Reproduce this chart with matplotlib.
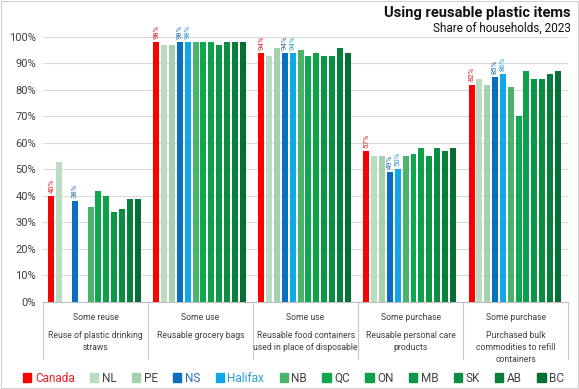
import matplotlib.pyplot as plt
import matplotlib.patches as mpatches
import numpy as np

plt.rcParams["font.family"] = ["Roboto", "DejaVu Sans"]

# categories (two-level axis)
measures = ["Some reuse", "Some use", "Some use", "Some purchase", "Some purchase"]
items = [
    "Reuse of plastic drinking\nstraws",
    "Reusable grocery bags",
    "Reusable food containers\nused in place of disposable",
    "Reusable personal care\nproducts",
    "Purchased bulk\ncommodities to refill\ncontainers",
]
regions = ["Canada", "NL", "PE", "NS", "Halifax", "NB", "QC", "ON", "MB", "SK", "AB", "BC"]

# share of households (%), one list per region; None = not shown
canada = [40, 98, 94, 57, 82]
nl = [53, 97, 93, 55, 84]
pe = [None, 97, 96, 55, 82]
ns = [38, 98, 94, 49, 85]
halifax = [None, 98, 94, 50, 86]
nb = [36, 98, 95, 55, 81]
qc = [42, 98, 93, 56, 70]
on = [40, 98, 94, 58, 87]
mb = [34, 97, 93, 55, 84]
sk = [35, 98, 93, 58, 84]
ab = [39, 98, 96, 57, 86]
bc = [39, 98, 94, 58, 87]
series = [canada, nl, pe, ns, halifax, nb, qc, on, mb, sk, ab, bc]

colors = ["#ff0000", "#b9dcc2", "#a6d1b1", "#0b6fc1", "#12a7e8", "#4cb36f",
          "#0fa84f", "#0ea14b", "#0c9747", "#0a8c42", "#087f3b", "#066f33"]
label_colors = {"Canada": "#e8202a", "NS": "#2c6db3", "Halifax": "#2a9fd6"}
grey = "#404040"

fig = plt.figure(figsize=(5.79, 3.89), dpi=100)
ax = fig.add_axes([0.0743, 0.2237, 0.907, 0.6813])

n = len(regions)
pitch = 0.0746
width = 0.057
start = 0.5 - pitch * (n - 1) / 2 - 0.01
x = np.arange(len(items))

for i, (name, vals) in enumerate(zip(regions, series)):
    xs = [g + start + i * pitch for g, v in zip(x, vals) if v is not None]
    ys = [v / 100 for v in vals if v is not None]
    ax.bar(xs, ys, width=width, color=colors[i], align="center", zorder=3)
    if name in label_colors:
        for xx, yy in zip(xs, ys):
            ax.text(xx, yy + 0.012, f"{round(yy * 100)}%", rotation=90, ha="center",
                    va="bottom", fontsize=5.6, color=label_colors[name], clip_on=False)

ax.set_xlim(0, len(items))
ax.set_ylim(0, 1)
ticks = np.arange(0, 1.01, 0.1)
ax.set_yticks(ticks)
ax.set_yticklabels([f"{int(round(t * 100))}%" for t in ticks], fontsize=8, color=grey)
ax.tick_params(axis="y", length=0, pad=5)
ax.tick_params(axis="x", length=0)
ax.set_xticks([])
ax.grid(axis="y", color="#d9d9d9", linewidth=0.8, zorder=0)
for s in ["top", "right", "left"]:
    ax.spines[s].set_visible(False)
ax.spines["bottom"].set_color("#bfbfbf")

# category label box
trans = ax.get_xaxis_transform()
for b in range(len(items) + 1):
    ax.plot([b, b], [0, -0.215], transform=trans, color="#c8c8c8", linewidth=0.8,
            clip_on=False)
for g in x:
    ax.text(g + 0.5, -0.043, measures[g], transform=trans, ha="center", va="top",
            fontsize=6.2, color=grey)
    ax.text(g + 0.5, -0.108, items[g], transform=trans, ha="center", va="top",
            fontsize=6.2, color=grey, linespacing=1.45)

# titles
fig.text(0.986, 0.966, "Using reusable plastic items", ha="right", va="center",
         fontsize=10.5, fontweight="bold", color="#111111")
fig.text(0.986, 0.928, "Share of households, 2023", ha="right", va="center",
         fontsize=8.5, color="#111111")

# legend
handles = [mpatches.Patch(color=c) for c in colors]
leg = fig.legend(handles, regions, loc="center", bbox_to_anchor=(0.507, 0.028), ncol=12,
                 frameon=False, fontsize=8.5, handlelength=0.7, handleheight=0.7,
                 handletextpad=0.3, columnspacing=1.3)
for t, name in zip(leg.get_texts(), regions):
    t.set_color(label_colors.get(name, grey))

# outer border
fig.patches.append(mpatches.Rectangle((0.002, 0.003), 0.996, 0.994, transform=fig.transFigure,
                                      fill=False, edgecolor="#d0d0d0", linewidth=0.8))

fig.savefig("out.png", dpi=100)
